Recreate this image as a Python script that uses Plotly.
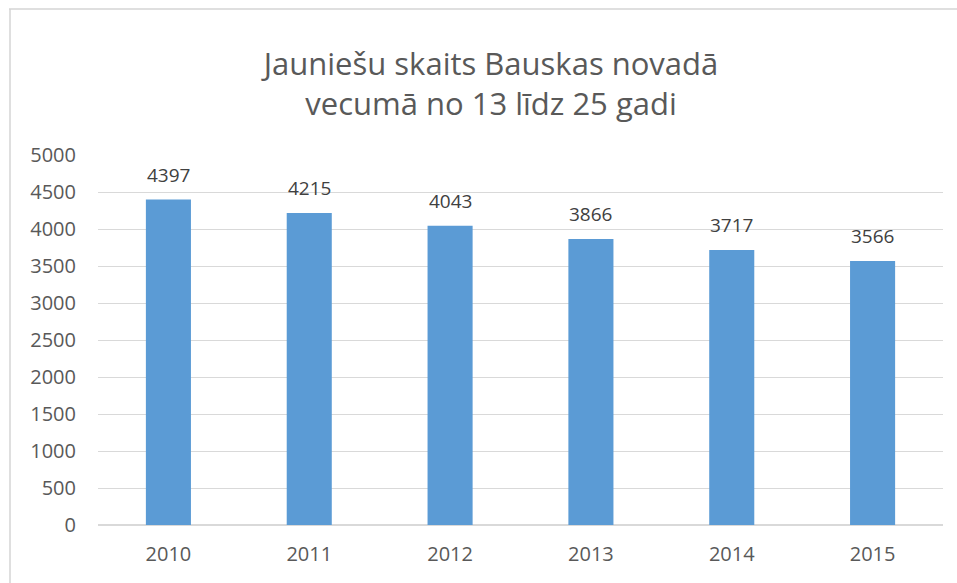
import plotly.graph_objects as go

years = ["2010", "2011", "2012", "2013", "2014", "2015"]
values = [4397, 4215, 4043, 3866, 3717, 3566]
title_lines = ["Jauniešu skaits Bauskas novadā", "vecumā no 13 līdz 25 gadi"]

W, H = 957, 583
L, R, T, B = 98, 14, 155, 58
pw, ph = W - L - R, H - T - B

fig = go.Figure(go.Bar(x=years, y=values, marker=dict(color="#5B9BD5", line=dict(width=0)),
                       hoverinfo="x+y"))

for i, yv in enumerate(values):
    fig.add_annotation(x=i, y=yv, text=str(yv), showarrow=False, yanchor="bottom",
                       yshift=10, font=dict(family="Open Sans", size=19, color="#404040"))

def px2paper_x(px):
    return (px - L) / pw

def px2paper_y(py):
    return (H - B - py) / ph

line_style = dict(color="#D4D4D4", width=1.5)
fig.add_shape(type="line", xref="paper", yref="paper",
              x0=px2paper_x(9), x1=px2paper_x(970), y0=px2paper_y(9), y1=px2paper_y(9),
              line=line_style, layer="below")
fig.add_shape(type="line", xref="paper", yref="paper",
              x0=px2paper_x(10), x1=px2paper_x(10), y0=px2paper_y(9), y1=px2paper_y(600),
              line=line_style, layer="below")

fig.update_layout(
    width=W, height=H,
    margin=dict(l=L, r=R, t=T, b=B),
    paper_bgcolor="white", plot_bgcolor="white",
    bargap=0.68,
    showlegend=False,
    title=dict(text="<br>".join(title_lines), x=491 / W, xanchor="center",
               y=1 - 75 / H, yanchor="middle",
               font=dict(family="Open Sans", size=31, color="#595959")),
    xaxis=dict(type="category", range=[-0.5, 5.5], showgrid=False, showline=False, ticks="",
               ticklabelstandoff=15,
               tickfont=dict(family="Open Sans", size=20, color="#595959")),
    yaxis=dict(range=[0, 5000], dtick=500, showgrid=True, gridcolor="#D9D9D9",
               zeroline=True, zerolinecolor="#D9D9D9", showline=False, ticks="",
               ticklabelstandoff=21,
               tickfont=dict(family="Open Sans", size=20, color="#595959")),
)

fig.write_html("out.html", config={"displayModeBar": False},
               post_script="document.body.style.margin='0';")
